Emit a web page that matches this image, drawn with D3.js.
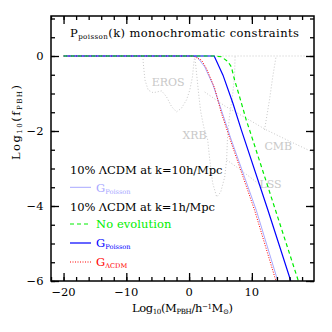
<!DOCTYPE html>
<html><head><meta charset="utf-8">
<script src="https://cdn.jsdelivr.net/npm/d3@7"></script>
<style>body{margin:0;background:#fff}svg{display:block}</style>
</head><body>
<svg id="c" width="332" height="332"></svg>
<script>
// ---- data (log10 M, log10 f) ----
const lcdm10Poisson = [[-20,0],[1.17,0],[2.49,-0.29],[3.81,-0.77],[5.14,-1.44],[6.73,-2.24],[10.70,-4.11],[14.13,-6]];
const noEvolution  = [[-20,0],[4.08,0],[5.14,-0.02],[6.19,-0.15],[6.73,-0.29],[7.25,-0.64],[8.05,-1.09],[9.11,-1.71],[9.63,-1.97],[17.41,-6]];
const gPoisson     = [[-20,0],[4.0,0],[5.40,-0.51],[6.98,-1.26],[8.32,-1.97],[12.54,-4.1],[16.2,-6]];
const gLCDM        = [[-20,0],[0.63,0],[1.97,-0.11],[2.76,-0.33],[4.08,-0.86],[5.14,-1.52],[6.73,-2.32],[10.43,-4.11],[13.84,-6]];
const erosCurve = [[-7.35,0],[-7.30,-0.19],[-7.03,-0.64],[-6.51,-0.91],[-5.71,-0.98],[-4.38,-0.93],[-3.59,-1.09],[-2.79,-1.35],[-2.00,-1.49],[-1.21,-1.39],[-0.41,-1.17],[0.11,-0.91],[0.54,-0.55],[0.75,-0.19],[0.90,0]];
const xrbCurve  = [[0.90,0],[1.22,-0.51],[1.54,-1.04],[1.86,-1.49],[2.33,-1.89],[2.97,-2.24],[3.29,-2.77],[3.76,-3.39],[4.40,-3.76],[5.03,-3.63],[5.67,-3.23],[5.98,-2.77],[6.14,-2.11],[6.46,-1.57],[6.94,-1.04],[7.25,-0.51],[7.33,0]];
const cmbDiag   = [[2.49,-0.96],[5.67,-1.33],[9.64,-1.71],[12.29,-1.97],[15.98,-2.27],[19.9,-2.58]];
const cmbRise   = [[12.02,-1.97],[12.81,-1.17],[13.33,-0.55],[13.87,0]];
const lssCurve  = [[5.98,-2.77],[7.57,-2.96],[9.63,-3.22],[11.54,-3.47]];
const topLine   = [[-20,0],[19.9,0]];
const xMajor = [-20,-10,0,10];
const xMinor = d3.range(-22,20,2);
const yMajor = [0,-2,-4,-6];
const yMinor = d3.range(-6,1.01,0.5);
const xTickLabels = ["\u221220","\u221210","0","10"];
const yTickLabels = ["0","\u22122","\u22124","\u22126"];

const svg = d3.select("#c");
const x = d3.scaleLinear().domain([-22,19.9]).range([51,314]);
const y = d3.scaleLinear().domain([-6,1.0667]).range([281,16]);
const FONT = "DejaVu Serif";
const line = d3.line().x(d=>x(d[0])).y(d=>y(d[1]));

const plot = svg.append("g");
plot.append("clipPath").attr("id","clip").append("rect")
  .attr("x",51).attr("y",16).attr("width",263).attr("height",265);
const pg = plot.append("g").attr("clip-path","url(#clip)");

// grey constraints
const grey = "#c8c8c8";
[topLine, erosCurve, xrbCurve, cmbDiag, cmbRise, lssCurve].forEach(c=>{
  pg.append("path").attr("d",line(c)).attr("fill","none")
    .attr("stroke",grey).attr("stroke-width",1).attr("stroke-dasharray","1,2");
});
const greyLabels = [["EROS",-5.95,-0.69],["XRB",-1.05,-2.11],["CMB",12.0,-2.4],["LSS",11.2,-3.4]];
greyLabels.forEach(([t,lx,ly])=>{
  pg.append("text").attr("x",x(lx)).attr("y",y(ly)+4).text(t)
    .attr("font-family",FONT).attr("font-size",11).attr("fill",grey);
});

// curves
const series = [
  {d:lcdm10Poisson,c:"#a8a8ff",w:1,dash:null},
  {d:gLCDM,c:"#ff0000",w:1,dash:"1,1.5"},
  {d:gPoisson,c:"#0000ff",w:1.2,dash:null},
  {d:noEvolution,c:"#00ee00",w:1.2,dash:"4,3"}
];
series.forEach(s=>{
  pg.append("path").attr("d",line(s.d)).attr("fill","none")
    .attr("stroke",s.c).attr("stroke-width",s.w).attr("stroke-dasharray",s.dash);
});

// axes ticks (inward on all sides)
function ticks(axisFn, scale, vals, size, transform){
  const a = axisFn(scale).tickValues(vals).tickSize(-size).tickFormat("");
  const g = svg.append("g").attr("transform",transform).call(a);
  g.select(".domain").remove();
  g.selectAll("line").attr("stroke","#000").attr("stroke-width",1.3);
}
ticks(d3.axisBottom,x,xMinor,4,"translate(0,281)");
ticks(d3.axisBottom,x,xMajor,8,"translate(0,281)");
ticks(d3.axisTop,x,xMinor,4,"translate(0,16)");
ticks(d3.axisTop,x,xMajor,8,"translate(0,16)");
ticks(d3.axisLeft,y,yMinor,4,"translate(51,0)");
ticks(d3.axisLeft,y,yMajor,8,"translate(51,0)");
ticks(d3.axisRight,y,yMinor,4,"translate(314,0)");
ticks(d3.axisRight,y,yMajor,8,"translate(314,0)");

svg.append("rect").attr("x",51).attr("y",16).attr("width",263).attr("height",265)
  .attr("fill","none").attr("stroke","#000").attr("stroke-width",1.5);

// tick labels
xMajor.forEach((v,i)=>{
  svg.append("text").attr("x",x(v)).attr("y",296).attr("text-anchor","middle")
    .attr("font-family",FONT).attr("font-size",11.5).text(xTickLabels[i]);
});
yMajor.forEach((v,i)=>{
  svg.append("text").attr("x",43.5).attr("y",y(v)+4.3).attr("text-anchor","end")
    .attr("font-family",FONT).attr("font-size",11.5).text(yTickLabels[i]);
});

// helper: text with sub/sup parts, fitted to width
function rich(parent, px, py, parts, size, color, target, subScale){
  const ss = subScale || 0.62;
  const t = parent.append("text").attr("x",px).attr("y",py)
    .attr("font-family",FONT).attr("font-size",size).attr("fill",color);
  parts.forEach(p=>{
    const ts = t.append("tspan").text(p.t);
    if(p.s==="sub") ts.attr("font-size",size*ss).attr("baseline-shift","-25%");
    else if(p.s==="sup") ts.attr("font-size",size*ss).attr("baseline-shift","45%");
  });
  if(target){
    const n = parts.reduce((a,p)=>a+p.t.length,0);
    const L = t.node().getComputedTextLength();
    t.attr("letter-spacing",((target-L)/(n-1)).toFixed(2)+"px");
  }
  return t;
}

rich(svg,70,37.3,[{t:"P"},{t:"poisson",s:"sub"},{t:"(k) monochromatic constraints"}],11.5,"#000",229);

// legend
const lg = svg.append("g");
rich(lg,70,173.5,[{t:"10% \u039BCDM at k=10h/Mpc"}],11.5,"#000",152.5);
rich(lg,70,210.7,[{t:"10% \u039BCDM at k=1h/Mpc"}],11.5,"#000",145);
const legItems = [
  {yy:187.3,c:"#a8a8ff",w:1,dash:null,parts:[{t:"G"},{t:"Poisson",s:"sub"}],tw:null},
  {yy:224,c:"#00ee00",w:1.2,dash:"4,3",parts:[{t:"No evolution"}],tw:75.5},
  {yy:243,c:"#0000ff",w:1.2,dash:null,parts:[{t:"G"},{t:"Poisson",s:"sub"}],tw:null},
  {yy:262,c:"#ff0000",w:1,dash:"1,1.5",parts:[{t:"G"},{t:"\u039BCDM",s:"sub"}],tw:null}
];
legItems.forEach(it=>{
  lg.append("line").attr("x1",70).attr("x2",91).attr("y1",it.yy).attr("y2",it.yy)
    .attr("stroke",it.c).attr("stroke-width",it.w).attr("stroke-dasharray",it.dash);
  rich(lg,96,it.yy+4.2,it.parts,11.5,it.c,it.tw,0.58);
});

// axis titles
rich(svg,132,311.5,[{t:"Log"},{t:"10",s:"sub"},{t:"(M"},{t:"PBH",s:"sub"},{t:"/h"},{t:"\u22121",s:"sup"},{t:"M"},{t:"\u2299",s:"sub"},{t:")"}],11.5,"#000",101);
const yl = svg.append("g").attr("transform","translate(20,160) rotate(-90)");
rich(yl,0,0,[{t:"Log"},{t:"10",s:"sub"},{t:"(f"},{t:"PBH",s:"sub"},{t:")"}],11.5,"#000",75);
</script>
</body></html>
